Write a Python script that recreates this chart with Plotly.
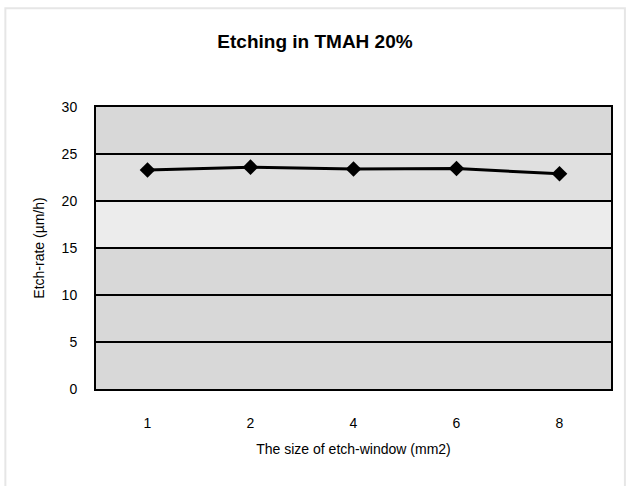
import plotly.graph_objects as go

# Data
window_sizes = ["1", "2", "4", "6", "8"]
etch_rate = [23.3, 23.6, 23.4, 23.45, 22.9]
y_ticks = [0, 5, 10, 15, 20, 25, 30]

fig = go.Figure()
fig.add_trace(go.Scatter(
    x=window_sizes, y=etch_rate, mode="lines+markers",
    line=dict(color="black", width=3),
    marker=dict(symbol="diamond", size=12, color="black"),
    showlegend=False, cliponaxis=False,
))

# lighter band (scan look)
fig.add_hrect(y0=15, y1=20, fillcolor="#ececec", line_width=0, layer="below")
fig.add_hrect(y0=20, y1=25, fillcolor="#e0e0e0", line_width=0, layer="below")

# faint outer frame
fig.add_shape(type="rect", xref="paper", yref="paper",
              x0=-0.176, x1=1.027, y0=-0.36, y1=1.35,
              line=dict(color="#e6e6e6", width=2))

fig.update_layout(
    width=630, height=486,
    margin=dict(l=96, r=19, t=107, b=97),
    paper_bgcolor="white", plot_bgcolor="#d8d8d8",
    font=dict(family="Liberation Sans, Arial, sans-serif", color="black", size=14),
    title=dict(text="<b>Etching in TMAH 20%</b>", x=0.5, xanchor="center",
               y=0.915, yanchor="middle", font=dict(size=19)),
)
fig.update_xaxes(
    type="category", range=[-0.5, 4.5], showgrid=False, showline=True,
    linecolor="black", linewidth=2, mirror=True, ticks="", ticklabelstandoff=20,
    title=dict(text="The size of etch-window (mm2)", standoff=14, font=dict(size=14)),
)
fig.update_yaxes(
    range=[0, 30], tickvals=y_ticks, showgrid=True, gridcolor="black", gridwidth=1.5,
    showline=True, linecolor="black", linewidth=2, mirror=True, ticks="",
    ticklabelstandoff=14, zeroline=False,
    title=dict(text="Etch-rate (µm/h)", standoff=14, font=dict(size=14)),
)

fig.write_html("out.html")
